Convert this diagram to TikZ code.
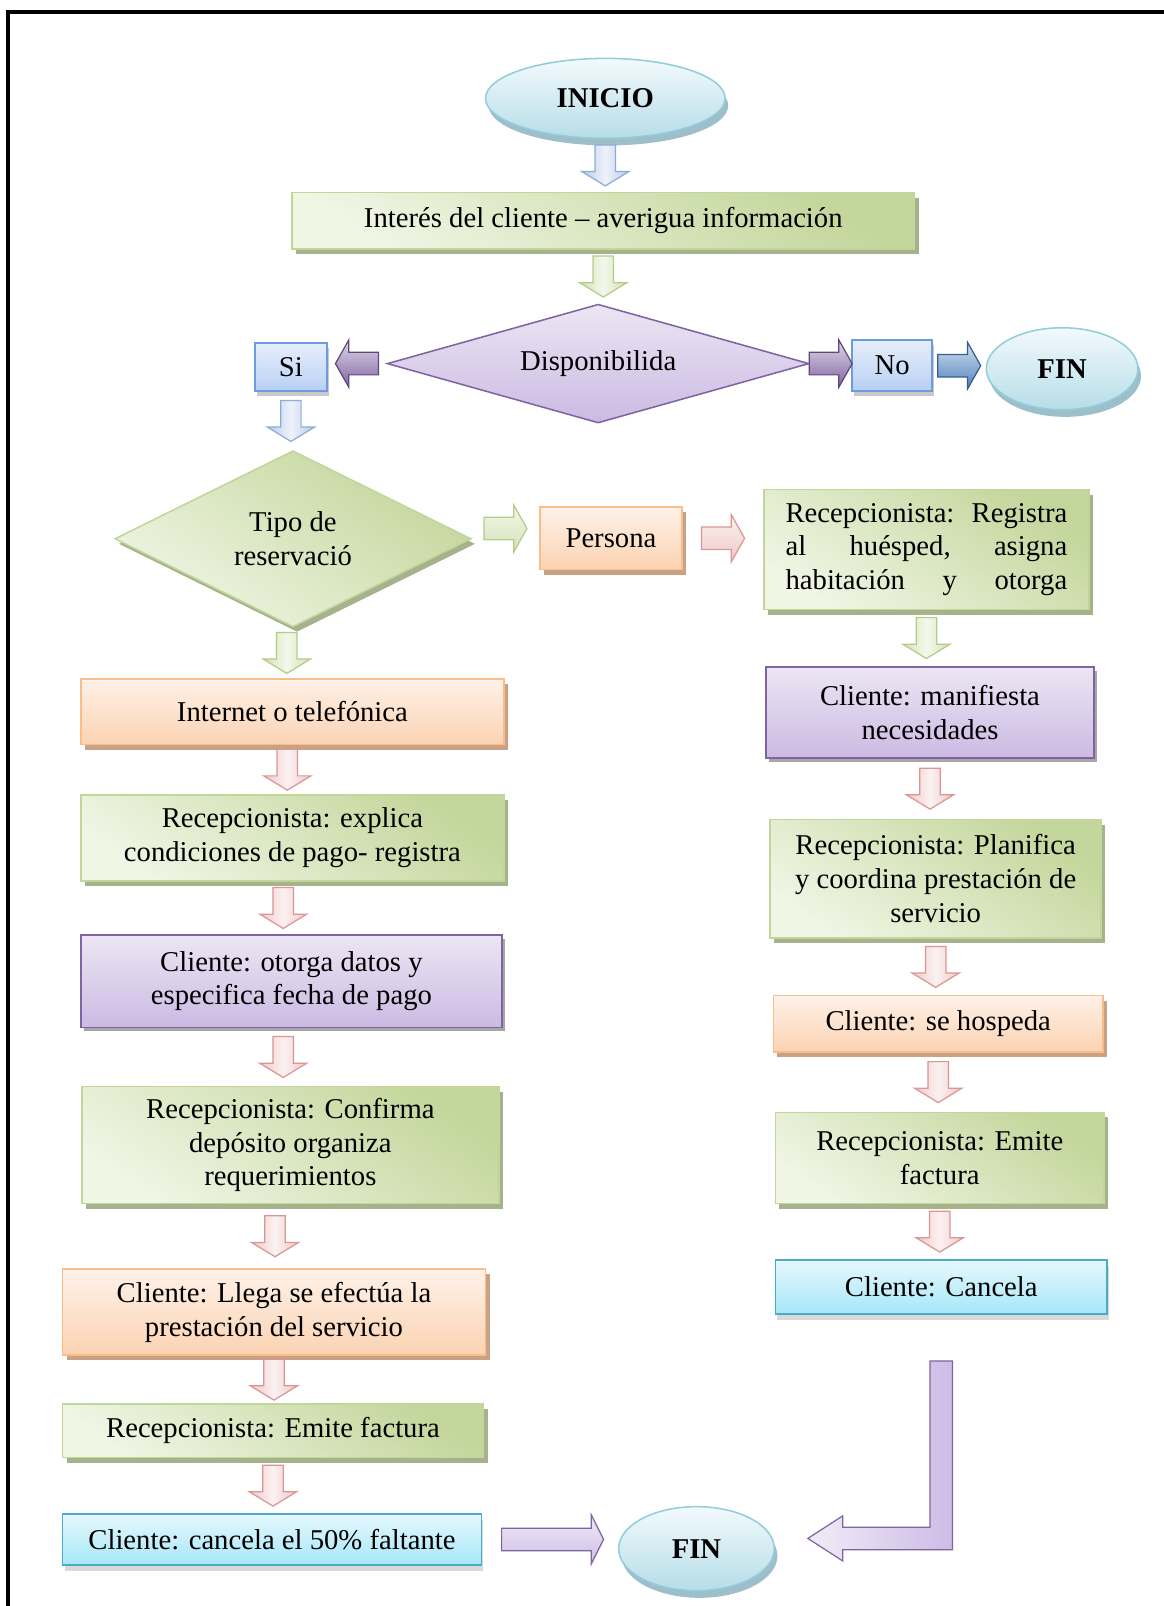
\documentclass[tikz,border=0pt]{standalone}
\usepackage{fontspec}
\setmainfont{Liberation Serif}
\usetikzlibrary{calc, shapes.geometric, shadows}
\definecolor{grnLight}{HTML}{F0F5E4}
\definecolor{grnDark}{HTML}{C3D69B}
\definecolor{grnLine}{HTML}{C2D69B}
\definecolor{grnShadow}{HTML}{A5B28C}
\definecolor{orgLight}{HTML}{FEF1E8}
\definecolor{orgDark}{HTML}{FBD3B2}
\definecolor{orgLine}{HTML}{F9BD8B}
\definecolor{orgShadow}{HTML}{C9A286}
\definecolor{purLight}{HTML}{ECE6F3}
\definecolor{purDark}{HTML}{CCBAE3}
\definecolor{purLine}{HTML}{8064A2}
\definecolor{cyaLight}{HTML}{E6F8FD}
\definecolor{cyaDark}{HTML}{A6E7F9}
\definecolor{cyaLine}{HTML}{4BACC6}
\definecolor{bluLight}{HTML}{E6EEFB}
\definecolor{bluDark}{HTML}{B8D0F4}
\definecolor{bluLine}{HTML}{6C9BE0}
\definecolor{elLight}{HTML}{F2FAFC}
\definecolor{elDark}{HTML}{B7DDE8}
\definecolor{elLine}{HTML}{92CDDC}
\definecolor{elShadow}{HTML}{9DBFCB}
\definecolor{arBlue}{HTML}{B9CDEB}
\definecolor{arBlueLine}{HTML}{8EAADB}
\definecolor{arGreen}{HTML}{D3E2B5}
\definecolor{arGreenLine}{HTML}{B5CB88}
\definecolor{arPink}{HTML}{EFC9C8}
\definecolor{arPinkLine}{HTML}{D99694}
\definecolor{arPurple}{HTML}{8064A2}
\definecolor{arPurpleLine}{HTML}{5F497A}
\definecolor{arDkBlue}{HTML}{4F81BD}
\definecolor{arDkBlueLine}{HTML}{385D8A}
\definecolor{lavLight}{HTML}{F1ECF7}
\definecolor{lavDark}{HTML}{CDBCE6}

\begin{document}
\begin{tikzpicture}[x=1pt, y=-1pt,
every node/.style={font=\fontsize{28}{33}\selectfont, inner sep=0pt},
shbox/.style={rectangle, line width=1.5pt, align=center},
grnbox/.style={shbox, draw=grnLine, top color=grnDark, bottom color=grnLight, shading angle=-35,
  drop shadow={shadow xshift=4pt, shadow yshift=-5pt, fill=grnShadow, opacity=1}},
orgbox/.style={shbox, draw=orgLine, top color=orgLight, bottom color=orgDark,
  drop shadow={shadow xshift=4pt, shadow yshift=-5pt, fill=orgShadow, opacity=1}},
purbox/.style={shbox, draw=purLine, top color=purLight, bottom color=purDark,
  drop shadow={shadow xshift=3pt, shadow yshift=-4pt, fill=black!35, opacity=1}},
cyabox/.style={shbox, draw=cyaLine, top color=cyaLight, bottom color=cyaDark,
  drop shadow={shadow xshift=2pt, shadow yshift=-6pt, fill=black!25, opacity=.6}},
blubox/.style={shbox, draw=bluLine, top color=bluLight, bottom color=bluDark,
  drop shadow={shadow xshift=2pt, shadow yshift=-5pt, fill=black!30, opacity=.7}},
term/.style={ellipse, line width=1.5pt, draw=elLine, top color=elLight, bottom color=elDark,
  font=\fontsize{28}{33}\selectfont\bfseries,
  drop shadow={shadow xshift=3pt, shadow yshift=-7pt, fill=elShadow, opacity=1}},
grndec/.style={diamond, line width=1.5pt, draw=grnLine, top color=grnDark, bottom color=grnLight,
  shading angle=-35, align=center,
  drop shadow={shadow xshift=4pt, shadow yshift=-5pt, fill=grnShadow, opacity=1}},
purdec/.style={diamond, aspect=3.5, line width=1.5pt, draw=purLine, top color=purLight, bottom color=purDark},
blk/.style 2 args={draw=#1, line width=1.2pt, left color=#2, right color=#2, middle color=#2!25},
blkh/.style 2 args={draw=#1, line width=1.2pt, top color=#2!25, bottom color=#2},
dnarr/.style={to path={let \p1=(\tikztostart.south), \p2=(\tikztotarget.north), \n1={(\y1+\y2)/2},
  \n2={\x1+#1} in
  (\n2-10pt,\n1+20pt) -- (\n2+10pt,\n1+20pt) -- (\n2+10pt,\n1-6pt) -- (\n2+23pt,\n1-6pt)
  -- (\n2,\n1-20pt) -- (\n2-23pt,\n1-6pt) -- (\n2-10pt,\n1-6pt) -- cycle}},
dnarr/.default=0pt,
rtarr/.style={to path={let \p1=(\tikztostart.east), \p2=(\tikztotarget.west), \n1={(\x1+\x2)/2},
  \n2={\y1+#1} in
  (\n1-21pt,\n2+11pt) -- (\n1+8pt,\n2+11pt) -- (\n1+8pt,\n2+23pt) -- (\n1+21pt,\n2)
  -- (\n1+8pt,\n2-23pt) -- (\n1+8pt,\n2-11pt) -- (\n1-21pt,\n2-11pt) -- cycle}},
rtarr/.default=0pt,
ltarr/.style={to path={let \p1=(\tikztostart.west), \p2=(\tikztotarget.east), \n1={(\x1+\x2)/2} in
  (\n1+21pt,\y1+11pt) -- (\n1-8pt,\y1+11pt) -- (\n1-8pt,\y1+23pt) -- (\n1-21pt,\y1)
  -- (\n1-8pt,\y1-23pt) -- (\n1-8pt,\y1-11pt) -- (\n1+21pt,\y1-11pt) -- cycle}},
longrt/.style={to path={let \p1=(\tikztostart.east), \p2=(\tikztotarget.west) in
  (\x1+19pt,\y1+11pt) -- (\x2-26pt,\y1+11pt) -- (\x2-26pt,\y1+24pt) -- (\x2-14pt,\y1)
  -- (\x2-26pt,\y1-24pt) -- (\x2-26pt,\y1-11pt) -- (\x1+19pt,\y1-11pt) -- cycle}},
elarr/.style={to path={let \p1=(\tikztostart.south), \p2=(\tikztotarget.east), \n1={\y2+10pt} in
  (\x1-11pt,\y1-45pt) -- (\x1+11pt,\y1-45pt) -- (\x1+11pt,\n1-11pt) -- (\x2+66pt,\n1-11pt)
  -- (\x2+66pt,\n1-22pt) -- (\x2+32pt,\n1) -- (\x2+66pt,\n1+22pt) -- (\x2+66pt,\n1+11pt)
  -- (\x1-11pt,\n1+11pt) -- cycle}}
]
\useasboundingbox (0,0) rectangle (1136,1568);
\draw[line width=3.5pt] (8,12) rectangle (1170,1600);

% top part
\node[term, minimum width=234, minimum height=78] (inicio) at (591,96) {INICIO};
\node[grnbox, minimum width=608, minimum height=55] (interes) at (589,215.5) {Interés del cliente -- averigua información};
\node[purdec, minimum width=412, minimum height=116] (dispo) at (584,355) {Disponibilida};
\node[blubox, minimum width=70, minimum height=47] (si) at (284,358.5) {Si};
\node[blubox, minimum width=78, minimum height=50] (no) at (871,357) {No};
\node[term, minimum width=148, minimum height=80] (fin1) at (1037,360) {FIN};
\node[grndec, minimum width=348, minimum height=172] (tipo) at (286,526) {Tipo de\\reservació};
\node[orgbox, minimum width=139, minimum height=61] (persona) at (596.5,525.5) {Persona};

% right column
\node[grnbox, minimum width=317, minimum height=117, text width=275, align=left] (registra) at (904.5,536.5)
  {Recepcionista:\hfill Registra\\al\hfill huésped,\hfill asigna\\habitación\hfill y\hfill otorga};
\node[purbox, minimum width=320, minimum height=89] (manif) at (908,695.5) {Cliente: manifiesta\\necesidades};
\node[grnbox, minimum width=323, minimum height=116] (planif) at (913.5,858) {Recepcionista: Planifica\\y coordina prestación de\\servicio};
\node[orgbox, minimum width=322, minimum height=55] (hospeda) at (916,999.5) {Cliente: se hospeda};
\node[grnbox, minimum width=321, minimum height=89] (emiteR) at (917.5,1130.5) {Recepcionista: Emite\\factura};
\node[cyabox, minimum width=324, minimum height=53] (cancelaR) at (919,1256.5) {Cliente: Cancela};

% left column
\node[orgbox, minimum width=413, minimum height=64] (internet) at (285.5,695) {Internet o telefónica};
\node[grnbox, minimum width=413, minimum height=84] (explica) at (285.5,818) {Recepcionista: explica\\condiciones de pago- registra};
\node[purbox, minimum width=411, minimum height=90] (otorga) at (284.5,958) {Cliente: otorga datos y\\especifica fecha de pago};
\node[grnbox, minimum width=407, minimum height=114] (confirma) at (283.5,1118) {Recepcionista: Confirma\\depósito organiza\\requerimientos};
\node[orgbox, minimum width=413, minimum height=84] (llega) at (267.5,1281) {Cliente: Llega se efectúa la\\prestación del servicio};
\node[grnbox, minimum width=411, minimum height=52] (emiteL) at (266.5,1397) {Recepcionista: Emite factura};
\node[cyabox, minimum width=409, minimum height=50] (cancelaL) at (265.5,1503) {Cliente: cancela el 50\% faltante};
\node[term, minimum width=152, minimum height=82] (fin2) at (680,1512) {FIN};

% connectors
\draw[dnarr, blk={arBlueLine}{arBlue}] (inicio) to (interes);
\draw[dnarr, blk={arGreenLine}{arGreen}] (interes) to (dispo);
\draw[ltarr, blkh={arPurpleLine}{arPurple}] (dispo) to (si);
\draw[rtarr, blkh={arPurpleLine}{arPurple}] (dispo) to (no);
\draw[rtarr, blkh={arDkBlueLine}{arDkBlue}] (no) to (fin1);
\draw[dnarr, blk={arBlueLine}{arBlue}] (si) to (tipo);
\draw[rtarr=10pt, blkh={arGreenLine}{arGreen}] (tipo) to (persona);
\draw[rtarr, blkh={arPinkLine}{arPink}] (persona) to (registra);

\draw[dnarr, blk={arGreenLine}{arGreen}] (registra) to (manif);
\draw[dnarr, blk={arPinkLine}{arPink}] (manif) to (planif);
\draw[dnarr, blk={arPinkLine}{arPink}] (planif) to (hospeda);
\draw[dnarr, blk={arPinkLine}{arPink}] (hospeda) to (emiteR);
\draw[dnarr, blk={arPinkLine}{arPink}] (emiteR) to (cancelaR);

\draw[dnarr=-6pt, blk={arGreenLine}{arGreen}] (tipo) to (internet);
\draw[dnarr=-5pt, blk={arPinkLine}{arPink}] (internet) to (explica);
\draw[dnarr=-9pt, blk={arPinkLine}{arPink}] (explica) to (otorga);
\draw[dnarr=-8pt, blk={arPinkLine}{arPink}] (otorga) to (confirma);
\draw[dnarr=-15pt, blk={arPinkLine}{arPink}] (confirma) to (llega);
\draw[dnarr, blk={arPinkLine}{arPink}] (llega) to (emiteL);
\draw[dnarr, blk={arPinkLine}{arPink}] (emiteL) to (cancelaL);

\draw[longrt, draw=purLine, line width=1.2pt, top color=lavLight, bottom color=lavDark] (cancelaL) to (fin2);
\draw[elarr, draw=purLine, line width=1.2pt, left color=lavLight, right color=lavDark] (cancelaR) to (fin2);
\end{tikzpicture}
\end{document}
